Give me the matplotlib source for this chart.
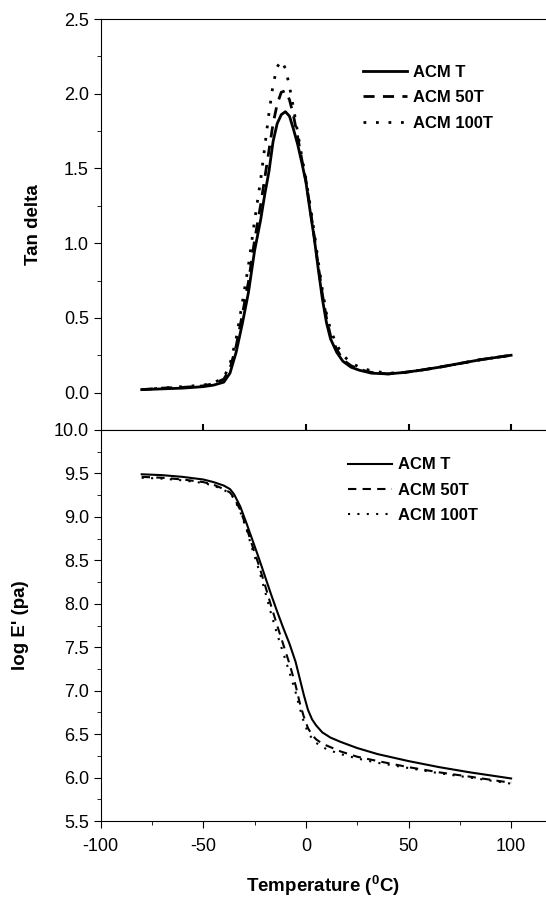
"""Tan delta and log E' versus temperature for three ACM samples."""
import matplotlib
matplotlib.use('Agg')
import matplotlib.pyplot as plt
from matplotlib.ticker import MultipleLocator

# ---- data ----
temp_tan = [-80, -70, -60, -50, -45, -40, -37, -34, -31, -28, -25, -22, -20,
            -18, -16, -14, -12, -10, -8, -6, -4, -2, 0, 2, 4, 6, 8, 10, 12,
            15, 18, 22, 26, 32, 40, 48, 56, 65, 75, 85, 100]
tan_t = [0.02, 0.025, 0.03, 0.04, 0.05, 0.07, 0.13, 0.27, 0.46, 0.67, 0.95,
         1.16, 1.33, 1.48, 1.68, 1.80, 1.86, 1.88, 1.85, 1.76, 1.66, 1.54,
         1.41, 1.22, 1.04, 0.83, 0.63, 0.47, 0.36, 0.27, 0.21, 0.17, 0.15,
         0.13, 0.125, 0.135, 0.15, 0.17, 0.195, 0.22, 0.25]
tan_50t = [0.02, 0.03, 0.035, 0.045, 0.06, 0.09, 0.16, 0.31, 0.52, 0.74, 1.02,
           1.26, 1.44, 1.62, 1.80, 1.93, 2.01, 2.02, 1.96, 1.85, 1.71, 1.56,
           1.42, 1.24, 1.05, 0.85, 0.66, 0.50, 0.38, 0.29, 0.22, 0.18, 0.155,
           0.135, 0.125, 0.135, 0.15, 0.17, 0.195, 0.22, 0.25]
tan_100t = [0.02, 0.03, 0.04, 0.05, 0.065, 0.10, 0.19, 0.36, 0.60, 0.85, 1.15,
            1.43, 1.65, 1.87, 2.06, 2.18, 2.22, 2.17, 2.05, 1.90, 1.74, 1.58,
            1.43, 1.26, 1.08, 0.88, 0.69, 0.53, 0.42, 0.32, 0.25, 0.20, 0.17,
            0.145, 0.13, 0.135, 0.15, 0.17, 0.195, 0.22, 0.25]

temp_e = [-80, -70, -60, -50, -45, -40, -37, -35, -32, -29, -26, -23, -20,
          -17, -14, -11, -8, -5, -3, -1, 1, 3, 5, 8, 12, 17, 25, 35, 50, 65,
          80, 100]
loge_t = [9.49, 9.48, 9.46, 9.43, 9.40, 9.36, 9.32, 9.26, 9.12, 8.93, 8.73,
          8.53, 8.32, 8.11, 7.91, 7.72, 7.54, 7.33, 7.14, 6.95, 6.78, 6.67,
          6.60, 6.52, 6.46, 6.41, 6.34, 6.27, 6.19, 6.12, 6.06, 5.99]
loge_50t = [9.46, 9.45, 9.43, 9.40, 9.37, 9.32, 9.28, 9.22, 9.08, 8.88, 8.66,
            8.45, 8.22, 7.98, 7.75, 7.53, 7.31, 7.06, 6.86, 6.70, 6.57, 6.49,
            6.44, 6.39, 6.35, 6.30, 6.24, 6.19, 6.12, 6.06, 6.01, 5.94]
loge_100t = [9.45, 9.44, 9.42, 9.39, 9.36, 9.31, 9.27, 9.21, 9.06, 8.86, 8.62,
             8.40, 8.15, 7.89, 7.65, 7.43, 7.21, 6.98, 6.80, 6.64, 6.52, 6.45,
             6.40, 6.35, 6.31, 6.27, 6.22, 6.17, 6.11, 6.05, 6.00, 5.93]

labels = ['ACM T', 'ACM 50T', 'ACM 100T']
styles = ['-', (0, (4, 3)), (0, (1, 3.5))]


def main():
    plt.rcParams['font.family'] = ['Liberation Sans', 'DejaVu Sans']
    plt.rcParams['axes.unicode_minus'] = False
    plt.rcParams['mathtext.fontset'] = 'custom'
    plt.rcParams['mathtext.rm'] = 'Liberation Sans:bold'
    plt.rcParams['mathtext.it'] = 'Liberation Sans:bold'

    fig = plt.figure(figsize=(5.46, 8.98), dpi=100)
    left, width = 0.1844, 1.0 - 0.1844
    ax1 = fig.add_axes([left, 0.5212, width, 0.9788 - 0.5212])
    ax2 = fig.add_axes([left, 0.0857, width, 0.5212 - 0.0857])

    # top panel: tan delta
    for vals, ls in zip([tan_t, tan_50t, tan_100t], styles):
        ax1.plot(temp_tan, vals, color='black', linestyle=ls, linewidth=2.0)
    ax1.set_xlim(-100, 117)
    ax1.set_ylim(-0.25, 2.5)
    ax1.yaxis.set_major_locator(MultipleLocator(0.5))
    ax1.yaxis.set_minor_locator(MultipleLocator(0.25))
    ax1.set_xticks([-50, 0, 50, 100])
    ax1.tick_params(axis='x', direction='inout', length=8, width=1.5,
                    labelbottom=False)
    ax1.tick_params(axis='y', which='major', direction='out', length=5,
                    labelsize=13)
    ax1.tick_params(axis='y', which='minor', direction='out', length=3)
    ax1.spines['right'].set_visible(False)
    ax1.set_ylabel('Tan delta', fontsize=13.5, fontweight='bold')
    ax1.yaxis.set_label_coords(-0.132, 0.5)
    ax1.legend(ax1.lines, labels, loc='upper left', frameon=False,
               bbox_to_anchor=(0.650, 0.937), bbox_transform=fig.transFigure,
               prop={'size': 12, 'weight': 'bold'}, borderpad=0,
               handlelength=2.6, handletextpad=0.4, labelspacing=0.62)

    # bottom panel: log E'
    for vals, ls in zip([loge_t, loge_50t, loge_100t], styles):
        ax2.plot(temp_e, vals, color='black', linestyle=ls, linewidth=1.5)
    ax2.set_xlim(-100, 117)
    ax2.set_ylim(5.5, 10.0)
    ax2.yaxis.set_major_locator(MultipleLocator(0.5))
    ax2.yaxis.set_minor_locator(MultipleLocator(0.25))
    ax2.xaxis.set_major_locator(MultipleLocator(50))
    ax2.xaxis.set_minor_locator(MultipleLocator(25))
    ax2.tick_params(which='major', direction='out', length=5, labelsize=13)
    ax2.tick_params(axis='x', which='major', pad=7)
    ax2.tick_params(which='minor', direction='out', length=3)
    ax2.yaxis.set_major_formatter(plt.FormatStrFormatter('%.1f'))
    ax2.spines['right'].set_visible(False)
    ax2.set_ylabel("log E' (pa)", fontsize=13.5, fontweight='bold')
    ax2.yaxis.set_label_coords(-0.161, 0.5)
    ax2.set_xlabel(r'Temperature ($^0$C)', fontsize=13.5, fontweight='bold',
                   labelpad=14)
    ax2.legend(ax2.lines, labels, loc='upper left', frameon=False,
               bbox_to_anchor=(0.623, 0.500), bbox_transform=fig.transFigure,
               prop={'size': 12, 'weight': 'bold'}, borderpad=0,
               handlelength=2.6, handletextpad=0.4, labelspacing=0.62)

    fig.savefig('out.png', dpi=100)


if __name__ == '__main__':
    main()
